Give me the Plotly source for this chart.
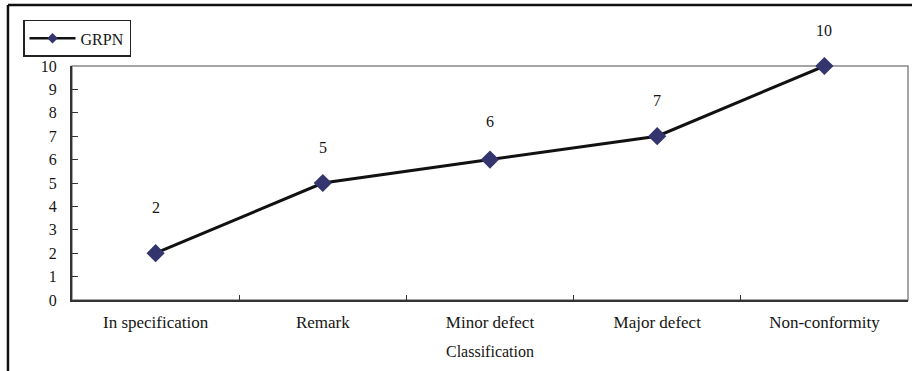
import plotly.graph_objects as go

categories = ["In specification", "Remark", "Minor defect", "Major defect", "Non-conformity"]
grpn = [2, 5, 6, 7, 10]
label_shift = [46, 36, 38, 36, 36]
y_ticks = list(range(0, 11))

FONT = "Liberation Serif, Times New Roman, serif"
TXT = "#151515"

fig = go.Figure()
fig.add_trace(go.Scatter(
    x=categories, y=grpn, mode="lines+markers", name="GRPN", showlegend=False,
    line=dict(color="#111111", width=3),
    marker=dict(symbol="diamond", size=14, color="#34346e"),
    cliponaxis=False,
))
# legend entry (smaller marker like the reference)
fig.add_trace(go.Scatter(
    x=[None], y=[None], mode="lines+markers", name="GRPN", showlegend=True,
    line=dict(color="#111111", width=2.5),
    marker=dict(symbol="diamond", size=8, color="#34346e"),
))

for c, v, s in zip(categories, grpn, label_shift):
    fig.add_annotation(x=c, y=v, text=str(v), showarrow=False, yshift=s,
                       font=dict(family=FONT, size=16, color=TXT))

# plot area border (gray top/right)
fig.add_shape(type="rect", xref="paper", yref="paper", x0=0, x1=1, y0=0, y1=1,
              line=dict(color="#888888", width=1.5), layer="below")
# outer frame (top and left)
fig.add_shape(type="line", xref="paper", yref="paper", x0=-0.0766, x1=1.02, y0=1.2607, y1=1.2607,
              line=dict(color="#111111", width=2.5))
fig.add_shape(type="line", xref="paper", yref="paper", x0=-0.0766, x1=-0.0766, y0=1.2607, y1=-0.35,
              line=dict(color="#111111", width=2.5))

fig.update_layout(
    width=912, height=371,
    margin=dict(l=72, r=4, t=66, b=71, autoexpand=False),
    paper_bgcolor="white", plot_bgcolor="white",
    font=dict(family=FONT, size=16, color=TXT),
    showlegend=True,
    legend=dict(x=-0.0586, y=1.197, xanchor="left", yanchor="top",
                bordercolor="#222", borderwidth=1.5, bgcolor="white",
                font=dict(family=FONT, size=16, color=TXT), itemwidth=46,
                tracegroupgap=0),
    xaxis=dict(range=[-0.5, 4.5], showline=True, linecolor="#333", linewidth=2,
               ticks="inside", ticklen=5, tickcolor="#333", tickson="boundaries",
               ticklabelstandoff=6,
               showgrid=False, zeroline=False,
               title=dict(text="Classification", font=dict(family=FONT, size=16, color=TXT), standoff=14),
               tickfont=dict(family=FONT, size=17, color=TXT)),
    yaxis=dict(range=[0, 10], tickvals=y_ticks, showline=True, linecolor="#333", linewidth=2,
               ticks="inside", ticklen=6, tickcolor="#333", ticklabelstandoff=10,
               showgrid=False, zeroline=False,
               tickfont=dict(family=FONT, size=16, color=TXT)),
)

fig.write_html("out.html", config={"displayModeBar": False},
               post_script="document.body.style.margin='0';document.body.style.overflow='hidden';")
